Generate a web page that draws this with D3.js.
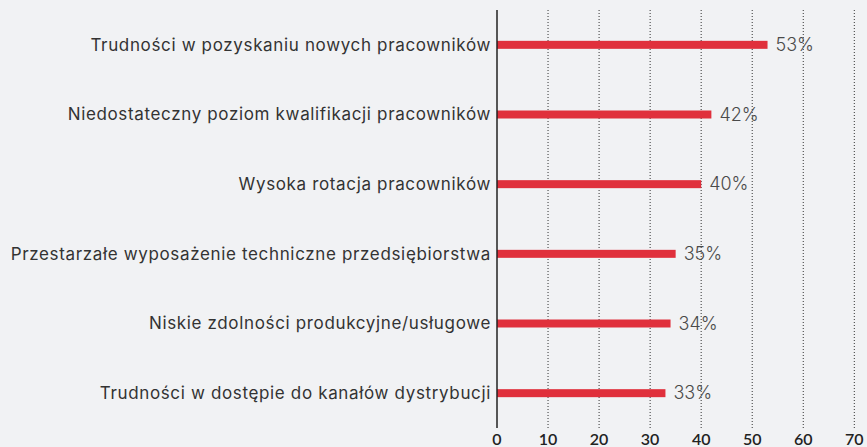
<!DOCTYPE html>
<html>
<head>
<meta charset="utf-8">
<script src="https://cdn.jsdelivr.net/npm/d3@7"></script>
<style>
  html, body { margin: 0; padding: 0; background: #f1f2f4; }
  svg { display: block; }
</style>
</head>
<body>
<svg id="chart" width="867" height="447"></svg>
<script>
// dane wykresu
const categories = [
  "Trudności w pozyskaniu nowych pracowników",
  "Niedostateczny poziom kwalifikacji pracowników",
  "Wysoka rotacja pracowników",
  "Przestarzałe wyposażenie techniczne przedsiębiorstwa",
  "Niskie zdolności produkcyjne/usługowe",
  "Trudności w dostępie do kanałów dystrybucji"
];
const values = [53, 42, 40, 35, 34, 33];
const tickValues = [0, 10, 20, 30, 40, 50, 60, 70];

const svg = d3.select("#chart");

// parametry obszaru
const area = { left: 497, right: 854.3, top: 10, bottom: 428 };

const scX = d3.scaleLinear()
  .domain([0, 70])
  .range([area.left, area.right]);

const scY = d3.scaleBand()
  .domain(categories)
  .range([area.top, area.bottom])
  .padding(0);

const barH = 8;

// siatka (kropkowana)
svg.append("g")
  .selectAll("line")
  .data(tickValues.slice(1))
  .enter()
  .append("line")
  .attr("x1", d => scX(d))
  .attr("x2", d => scX(d))
  .attr("y1", area.top)
  .attr("y2", area.bottom)
  .attr("stroke", "#333")
  .attr("stroke-width", 1)
  .attr("stroke-dasharray", "1,2");

// słupki
svg.append("g")
  .selectAll("rect")
  .data(values)
  .enter()
  .append("rect")
  .attr("x", scX(0))
  .attr("y", (d, i) => scY(categories[i]) + scY.bandwidth() / 2 - barH / 2)
  .attr("width", d => scX(d) - scX(0))
  .attr("height", barH)
  .attr("fill", "#e0303c");

// oś Y
svg.append("line")
  .attr("x1", scX(0))
  .attr("x2", scX(0))
  .attr("y1", area.top)
  .attr("y2", area.bottom)
  .attr("stroke", "#222")
  .attr("stroke-width", 1.5);

// etykiety kategorii
svg.append("g")
  .selectAll("text")
  .data(categories)
  .enter()
  .append("text")
  .attr("x", scX(0) - 6)
  .attr("y", d => scY(d) + scY.bandwidth() / 2)
  .attr("dy", "0.35em")
  .attr("text-anchor", "end")
  .style("font-family", "Inter, 'Open Sans', sans-serif")
  .style("font-size", "17px")
  .style("letter-spacing", "0.65px")
  .style("fill", "#333")
  .text(d => d);

// wartości
svg.append("g")
  .selectAll("text")
  .data(values)
  .enter()
  .append("text")
  .attr("x", d => scX(d) + 8)
  .attr("y", (d, i) => scY(categories[i]) + scY.bandwidth() / 2)
  .attr("dy", "0.35em")
  .style("font-family", "Inter, 'Open Sans', sans-serif")
  .style("font-size", "18px")
  .style("font-weight", 300)
  .style("fill", "#4a4a4a")
  .text(d => d + "%");

// oś X - etykiety
svg.append("g")
  .selectAll("text")
  .data(tickValues)
  .enter()
  .append("text")
  .attr("x", d => scX(d))
  .attr("y", 445)
  .attr("text-anchor", "middle")
  .style("font-family", "Lato, 'Noto Sans', sans-serif")
  .style("font-size", "16px")
  .style("font-weight", 600)
  .style("fill", "#222")
  .text(d => d);
</script>
</body>
</html>
